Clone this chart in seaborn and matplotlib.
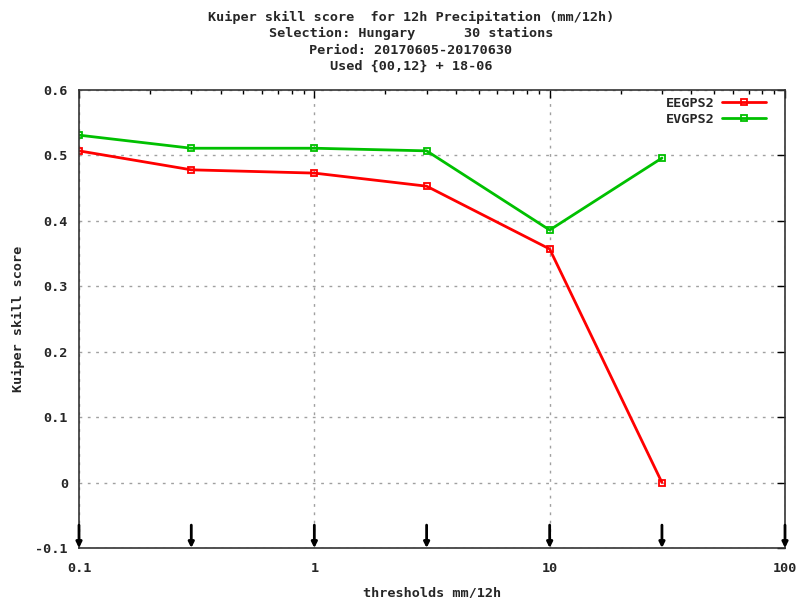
import matplotlib
matplotlib.use("Agg")
import matplotlib.pyplot as plt
import seaborn as sns
import pandas as pd
from matplotlib.ticker import LogLocator, FixedLocator, FixedFormatter, NullFormatter
from matplotlib.lines import Line2D

thresholds = [0.1, 0.3, 1, 3, 10, 30]
eegps2 = [0.507, 0.478, 0.473, 0.453, 0.357, 0.0]
evgps2 = [0.531, 0.511, 0.511, 0.507, 0.386, 0.496]
series_names = ["EEGPS2", "EVGPS2"]
series_colors = ["#ff0000", "#00c000"]
arrow_x = [0.1, 0.3, 1, 3, 10, 30, 100]
xtick_vals = [0.1, 1, 10, 100]
xtick_labels = ["0.1", "1", "10", "100"]
ytick_vals = [-0.1, 0, 0.1, 0.2, 0.3, 0.4, 0.5, 0.6]
ytick_labels = ["-0.1", "0", "0.1", "0.2", "0.3", "0.4", "0.5", "0.6"]
title_lines = ["Kuiper skill score  for 12h Precipitation (mm/12h)",
               "Selection: Hungary      30 stations",
               "Period: 20170605-20170630",
               "Used {00,12} + 18-06"]

df = pd.DataFrame({
    "x": thresholds * 2,
    "y": eegps2 + evgps2,
    "model": [series_names[0]] * len(thresholds) + [series_names[1]] * len(thresholds),
})

sns.set_style("white")
plt.rcParams["font.family"] = ["DejaVu Sans Mono"]
plt.rcParams["font.weight"] = "bold"
fs = 9.7

fig = plt.figure(figsize=(7.98, 5.98), dpi=100)
ax = fig.add_axes([79/798, 1-548/598, (785-79)/798, (548-90)/598])

sns.lineplot(data=df, x="x", y="y", hue="model", palette=series_colors,
             marker="s", markersize=5, markerfacecolor="none", markeredgewidth=1.3,
             linewidth=2, ax=ax, legend=False)
for line, c in zip(ax.lines, series_colors):
    line.set_markeredgecolor(c)

ax.set_xscale("log")
ax.set_xlim(0.1, 100)
ax.set_ylim(-0.1, 0.6)
ax.xaxis.set_major_locator(FixedLocator(xtick_vals))
ax.xaxis.set_major_formatter(FixedFormatter(xtick_labels))
ax.xaxis.set_minor_locator(LogLocator(base=10, subs=range(2, 10)))
ax.xaxis.set_minor_formatter(NullFormatter())
ax.set_yticks(ytick_vals)
ax.set_yticklabels(ytick_labels)
ax.tick_params(axis="both", which="both", direction="in", top=True, right=True,
               labelsize=fs, color="black", width=1)
ax.tick_params(which="major", length=6)
ax.tick_params(which="minor", length=3)
ax.tick_params(axis="x", pad=10)
ax.tick_params(axis="y", pad=8)
for sp in ax.spines.values():
    sp.set_color("#333333")
    sp.set_linewidth(1.2)
ax.grid(True, which="major", color="#a0a0a0", linestyle=(0, (2, 4)), linewidth=1)

for xv in arrow_x:
    ax.annotate("", xy=(xv, -0.1), xytext=(xv, -0.065),
                arrowprops=dict(arrowstyle="-|>", color="black", lw=2,
                                mutation_scale=8, shrinkA=0, shrinkB=0))

ax.set_xlabel("thresholds mm/12h", fontsize=fs, fontweight="bold", labelpad=8)
ax.set_ylabel("")
fig.text(18/798, 1 - 319/598, "Kuiper skill score", rotation=90, ha="center",
         va="center", fontsize=fs, fontweight="bold")

handles = [Line2D([], [], color=c, lw=2, marker="s", markersize=5,
                  markerfacecolor="none", markeredgecolor=c, markeredgewidth=1.3)
           for c in series_colors]
leg = ax.legend(handles, series_names, loc="upper right", frameon=False,
                markerfirst=False, fontsize=fs, handlelength=3.2, handletextpad=0.6,
                labelspacing=0.25, borderaxespad=0.2, borderpad=0.3,
                bbox_to_anchor=(0.982, 1.0))
for t in leg.get_texts():
    t.set_fontweight("bold")

for i, line in enumerate(title_lines):
    fig.text(411/798, 1 - (17 + 16.5*i)/598, line, ha="center", va="center",
             fontsize=fs, fontweight="bold")

fig.savefig("out.png", dpi=100, facecolor="white")
